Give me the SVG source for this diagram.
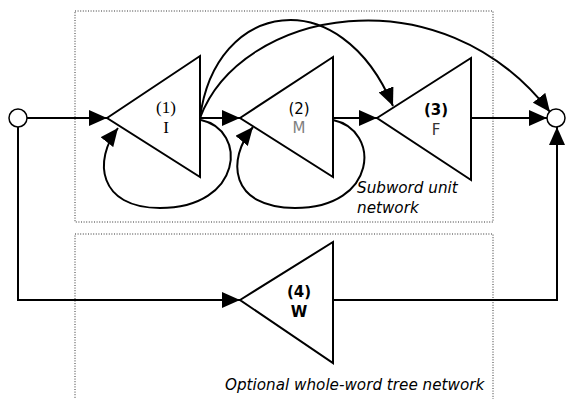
<svg xmlns="http://www.w3.org/2000/svg" width="566" height="399" viewBox="0 0 566 399">
<style>
.box{fill:none;stroke:#333;stroke-width:1;stroke-dasharray:1,1.6}
.tri{fill:#fff;stroke:#000;stroke-width:2;stroke-linejoin:miter}
.ln{fill:none;stroke:#000;stroke-width:2}
.ar{marker-end:url(#ah)}
.st{fill:#fff;stroke:#000;stroke-width:1.5}
.serif{font-family:"Liberation Serif","Times New Roman",serif;font-size:17px;text-anchor:middle;fill:#000}
.sans{font-family:"DejaVu Sans",Verdana,sans-serif;font-size:15px;text-anchor:middle}
.cap{font-family:"DejaVu Sans",Verdana,sans-serif;font-size:15.2px;font-style:italic;fill:#000}
</style>
<defs>
<marker id="ah" markerUnits="userSpaceOnUse" markerWidth="18" markerHeight="16" refX="18" refY="8" orient="auto">
<path d="M0,0 L18,8 L0,16 Z" fill="#000"/>
</marker>
</defs>
<rect class="box" x="75" y="11" width="418" height="211"/>
<rect class="box" x="75" y="234" width="418" height="180"/>
<g id="connectors">
<path class="ln ar" d="M27 118 H107"/>
<path class="ln" d="M18 127 V300 H222"/>
<path class="ln ar" d="M18 300 H240"/>
<path class="ln ar" d="M200 118 H240"/>
<path class="ln ar" d="M333 118 H377"/>
<path class="ln ar" d="M471 118 H547"/>
<path class="ln" d="M333 300 H557 V140"/>
<path class="ln ar" d="M557 150 V127"/>
<path class="ln ar" d="M201 120 C248 130 243 208 160 208 C98 208 93 160 118 128"/>
<path class="ln ar" d="M333 120 C381 130 378 208 295 208 C230 208 226 160 253 127"/>
<path class="ln ar" d="M200 118 C215 0 340 -20 393 106"/>
<path class="ln ar" d="M200 118 C240 10 440 -30 550 112"/>
</g>
<g id="node-start"><circle class="st" cx="18" cy="118" r="9"/></g>
<g id="node-end"><circle class="st" cx="556" cy="118" r="9"/></g>
<g id="node-1">
<polygon class="tri" points="107,118 200,56 200,177"/>
<text class="serif" x="166" y="113">(1)</text>
<text class="serif" x="166" y="133">I</text>
</g>
<g id="node-2">
<polygon class="tri" points="240,118 333,57 333,177"/>
<text class="sans" x="299" y="114" fill="#000">(2)</text>
<text class="sans" x="299" y="133" fill="#808080">M</text>
</g>
<g id="node-3">
<polygon class="tri" points="377,118 471,58 471,180"/>
<text class="sans" x="436" y="115" fill="#000" font-weight="bold">(3)</text>
<text class="sans" x="436" y="135" fill="#333">F</text>
</g>
<g id="node-4">
<polygon class="tri" points="240,300 333,242 333,363"/>
<text class="sans" x="299" y="297" fill="#000" font-weight="bold">(4)</text>
<text class="sans" x="299" y="317" fill="#000" font-weight="bold">W</text>
</g>
<text class="cap" x="357" y="193">Subword unit</text>
<text class="cap" x="357" y="213">network</text>
<text class="cap" x="225" y="390">Optional whole-word tree network</text>
</svg>
